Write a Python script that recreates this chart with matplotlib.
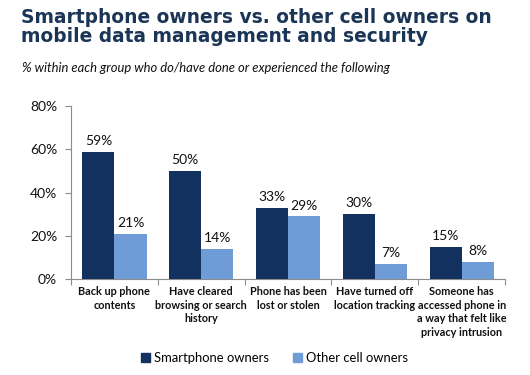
import numpy as np
import matplotlib
matplotlib.use('Agg')
import matplotlib.pyplot as plt
import matplotlib.patches as mpatches

categories = ['Back up phone\ncontents', 'Have cleared\nbrowsing or search\nhistory',
              'Phone has been\nlost or stolen', 'Have turned off\nlocation tracking',
              'Someone has\naccessed phone in\na way that felt like\nprivacy intrusion']
smartphone = [59, 50, 33, 30, 15]
other_cell = [21, 14, 29, 7, 8]
series_names = ['Smartphone owners', 'Other cell owners']

DARK = '#12315f'
LIGHT = '#6f9bd6'
TITLE_C = '#1b3556'
AXIS_C = '#8c8c8c'
FONT = 'Lato'

fig = plt.figure(figsize=(5.3, 3.75), dpi=100, facecolor='white')
ax = fig.add_axes([0.134, 0.256, 0.819, 0.461])

x = np.arange(len(categories))
w = 0.37
ax.bar(x - w / 2, smartphone, w, color=DARK, zorder=3)
ax.bar(x + w / 2, other_cell, w, color=LIGHT, zorder=3)

for xi, v in zip(x - w / 2, smartphone):
    ax.text(xi, v + 2.2, f'{v}%', ha='center', va='bottom', fontsize=10,
            family=FONT, color='#111111')
for xi, v in zip(x + w / 2, other_cell):
    ax.text(xi, v + 2.2, f'{v}%', ha='center', va='bottom', fontsize=10,
            family=FONT, color='#111111')

ax.set_xlim(-0.5, len(categories) - 0.5)
ax.set_ylim(0, 80)
ax.set_yticks([0, 20, 40, 60, 80])
ax.set_yticklabels([f'{t}%' for t in [0, 20, 40, 60, 80]], fontsize=10,
                   family=FONT, color='#111111')
ax.set_xticks(np.arange(len(categories) + 1) - 0.5)
ax.set_xticklabels([])
ax.set_xticks(x, minor=True)
ax.set_xticklabels(categories, minor=True, fontsize=7.8, fontweight='bold',
                   family=FONT, color='#111111', linespacing=1.3)
ax.tick_params(axis='x', which='minor', length=0, pad=5)
ax.tick_params(axis='x', which='major', length=4, color=AXIS_C, direction='out')
ax.tick_params(axis='y', length=4, color=AXIS_C, direction='out', pad=6)

for s in ['top', 'right']:
    ax.spines[s].set_visible(False)
for s in ['left', 'bottom']:
    ax.spines[s].set_color(AXIS_C)
    ax.spines[s].set_linewidth(0.8)

fig.text(0.04, 0.978, 'Smartphone owners vs. other cell owners on\nmobile data management and security',
         ha='left', va='top', fontsize=13.4, fontweight='bold', color=TITLE_C,
         family='DejaVu Sans', linespacing=1.0)
fig.text(0.042, 0.835, '% within each group who do/have done or experienced the following',
         ha='left', va='top', fontsize=9.4, style='italic', color='#111111',
         family=FONT)

handles = [mpatches.Patch(color=DARK, label=series_names[0]),
           mpatches.Patch(color=LIGHT, label=series_names[1])]
fig.legend(handles=handles, loc='center', bbox_to_anchor=(0.518, 0.046), ncol=2,
           frameon=False, handlelength=0.7, handleheight=0.7,
           handletextpad=0.3, columnspacing=1.8, prop={'family': FONT, 'size': 9.4})

fig.savefig('out.png', dpi=100, facecolor='white')
